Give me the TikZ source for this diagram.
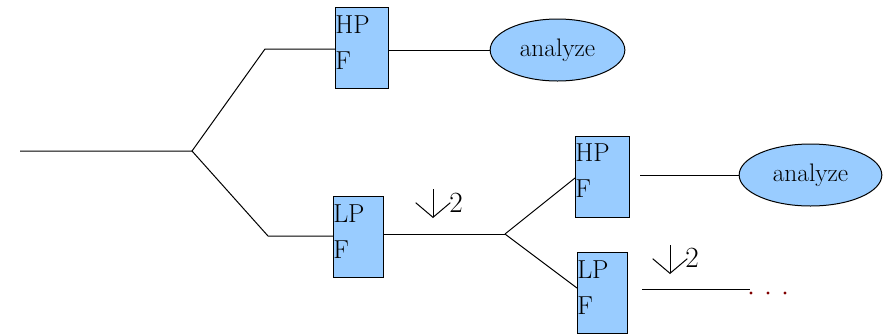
\documentclass[tikz,border=0pt]{standalone}
\usetikzlibrary{shapes.geometric,arrows.meta}
\definecolor{filtblue}{RGB}{153,204,255}
\definecolor{dotred}{RGB}{128,0,0}
\tikzset{
	filt/.style={draw=black,fill=filtblue,line width=0.9pt,inner sep=0pt,minimum height=60.75pt,anchor=north west},
	filttext/.style={anchor=north west,inner sep=0pt,align=left,font=\fontsize{19.5}{27}\selectfont},
	blob/.style={ellipse,draw=black,fill=filtblue,line width=0.75pt,inner sep=0pt,minimum height=46.5pt,font=\fontsize{19}{23}\selectfont},
	wire/.style={draw=black,line width=0.75pt},
	decim/.style={line width=0.75pt,-{Straight Barb[length=11pt,width=26pt]}},
	factor/.style={anchor=base west,inner sep=0pt,font=\fontsize{22}{26}\selectfont}
}
\begin{document}
\begin{tikzpicture}[x=0.75pt,y=-0.75pt]
		\useasboundingbox (0,0) rectangle (883,333);
		
		% first stage
		\coordinate (in) at (20,151);
		\coordinate (split1) at (192,151);
		\coordinate (up1) at (265,49);
		\coordinate (lo1) at (268,236);
		\node[filt,minimum width=39.75pt] (hpf1) at (335,7) {};
		\node[filttext] (hpt1) at (335,15) {HP\\F};
		\node[filt,minimum width=37.5pt] (lpf1) at (333,196) {};
		\node[filttext] (lpt1) at (333,204) {LP\\F};
		\node[blob,minimum width=101pt] (ana1) at (557.5,50) {analyze};
		\draw[wire] (in) -- (split1) -- (up1) -- (hpf1.west |- up1);
		\draw[wire] (split1) -- (lo1) -- (lpf1.west |- lo1);
		\draw[wire] (hpf1.east |- ana1.west) -- (ana1.west);
		
		% downsample by 2
		\coordinate (split2) at (505,234);
		\draw[wire] (lpf1.east |- split2) -- (split2);
		\coordinate (d1top) at (433,189);
		\coordinate (d1tip) at (433,218);
		\draw[decim] (d1top) -- (d1tip);
		\node[factor] (f1) at (449,212) {2};
		
		% second stage
		\coordinate (up2) at (575,178);
		\coordinate (lo2) at (577,288);
		\node[filt,minimum width=40.5pt] (hpf2) at (575,136) {};
		\node[filttext] (hpt2) at (575,143) {HP\\F};
		\node[filt,minimum width=37.5pt] (lpf2) at (577,252) {};
		\node[filttext] (lpt2) at (577,260) {LP\\F};
		\node[blob,minimum width=107pt] (ana2) at (810.5,175) {analyze};
		\draw[wire] (split2) -- (up2);
		\draw[wire] (split2) -- (lo2);
		\coordinate (out2) at (640,175);
		\draw[wire] (out2) -- (ana2.west);
		
		% next level
		\coordinate (d2top) at (670,245);
		\coordinate (d2tip) at (670,274);
		\draw[decim] (d2top) -- (d2tip);
		\node[factor] (f2) at (685,267) {2};
		\coordinate (out3) at (642,289);
		\coordinate (tail) at (750,289);
		\draw[wire] (out3) -- (tail);
		\foreach \x in {751,768,785}
			\fill[fill=dotred] (\x,293) circle (1.3pt);
	
	\end{tikzpicture}
\end{document}
